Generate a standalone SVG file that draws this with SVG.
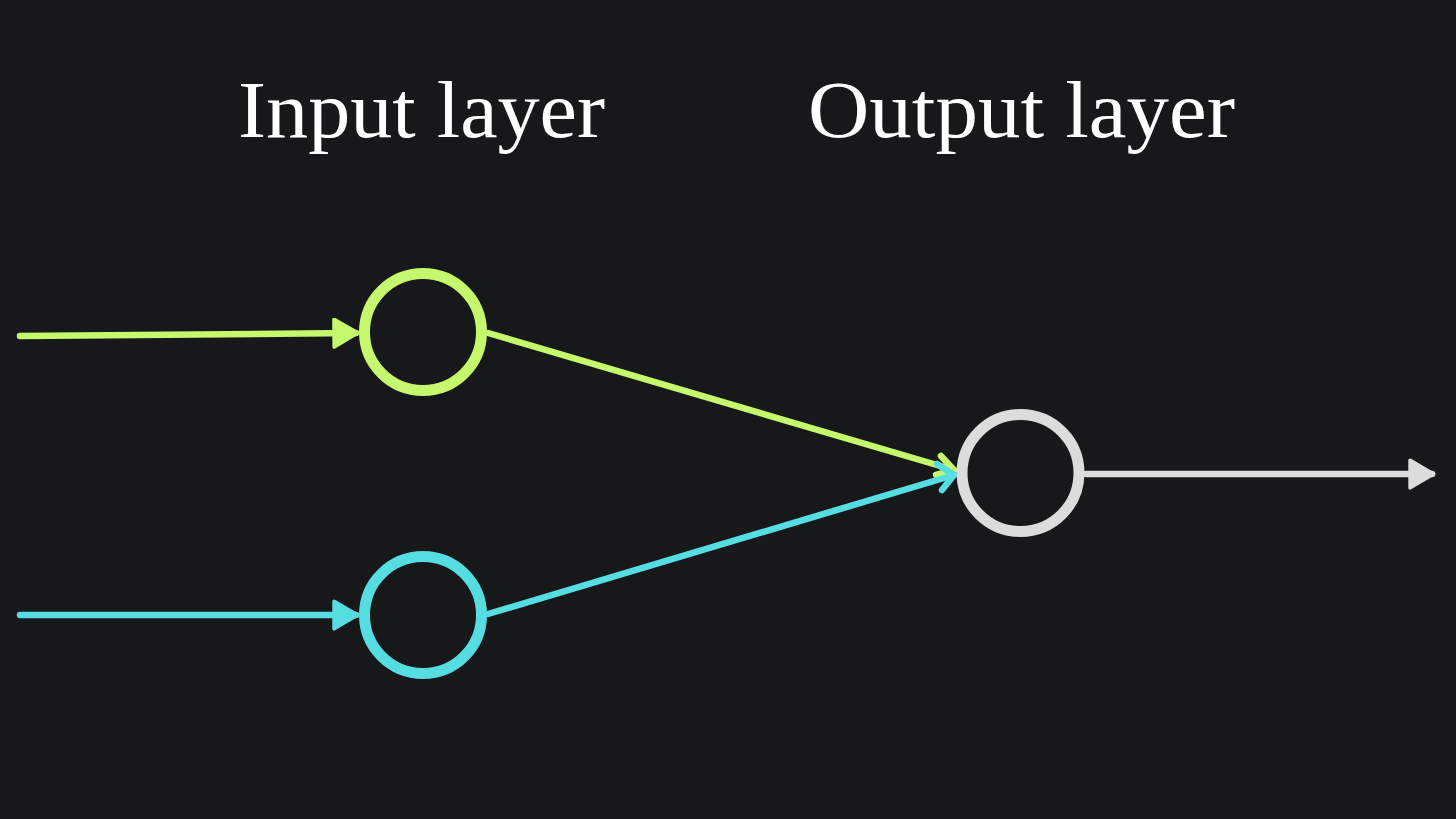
<svg xmlns="http://www.w3.org/2000/svg" width="1456" height="819" viewBox="0 0 1456 819">
<style>
.lbl{font-family:"Liberation Serif","DejaVu Serif",serif;font-size:80px;fill:#ffffff}
.node{fill:none;stroke-width:11}
.edge{fill:none;stroke-width:6.5;stroke-linecap:round}
</style>
<defs>
<marker id="triG" viewBox="0 0 10 10" refX="8.5" refY="5" markerWidth="4.8" markerHeight="4.8" orient="auto" markerUnits="strokeWidth">
<path d="M1.5,0.6 L9,5 L1.5,9.4 Z" fill="#c5f86c" stroke="#c5f86c" stroke-width="1.2" stroke-linejoin="round"/>
</marker>
<marker id="triC" viewBox="0 0 10 10" refX="8.5" refY="5" markerWidth="4.8" markerHeight="4.8" orient="auto" markerUnits="strokeWidth">
<path d="M1.5,0.6 L9,5 L1.5,9.4 Z" fill="#56dde2" stroke="#56dde2" stroke-width="1.2" stroke-linejoin="round"/>
</marker>
<marker id="triW" viewBox="0 0 10 10" refX="8.5" refY="5" markerWidth="4.8" markerHeight="4.8" orient="auto" markerUnits="strokeWidth">
<path d="M1.5,0.6 L9,5 L1.5,9.4 Z" fill="#dcdcdc" stroke="#dcdcdc" stroke-width="1.2" stroke-linejoin="round"/>
</marker>
</defs>
<rect width="1456" height="819" fill="#16181a"/>
<text class="lbl" x="238" y="137" textLength="367" lengthAdjust="spacingAndGlyphs">Input layer</text>
<text class="lbl" x="808" y="137" textLength="427" lengthAdjust="spacingAndGlyphs">Output layer</text>
<g id="connectors">
<line class="edge" x1="20" y1="336" x2="356" y2="333" stroke="#c5f86c" marker-end="url(#triG)"/>
<line class="edge" x1="20" y1="615" x2="356" y2="615" stroke="#56dde2" marker-end="url(#triC)"/>
<line class="edge" x1="488" y1="333" x2="954" y2="470" stroke="#c5f86c"/>
<path class="edge" d="M941,456 L954,470 L936,475" stroke="#c5f86c" stroke-linejoin="round"/>
<line class="edge" x1="488" y1="614" x2="954" y2="475" stroke="#56dde2"/>
<path class="edge" d="M937,464 L954,475 L942,490" stroke="#56dde2" stroke-linejoin="round"/>
<line class="edge" x1="1086" y1="474" x2="1432" y2="474" stroke="#dcdcdc" marker-end="url(#triW)"/>
</g>
<g id="input1"><circle class="node" cx="423" cy="332" r="58.5" stroke="#c5f86c"/></g>
<g id="input2"><circle class="node" cx="423" cy="615" r="58.5" stroke="#56dde2"/></g>
<g id="output"><circle class="node" cx="1020.5" cy="473" r="58.5" stroke="#dcdcdc"/></g>
</svg>
